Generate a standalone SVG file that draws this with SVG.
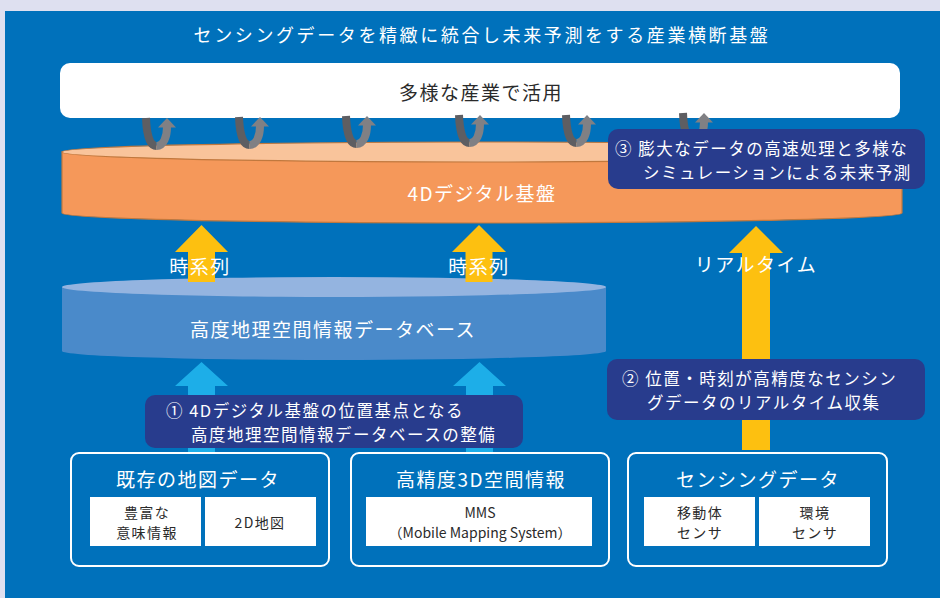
<svg xmlns="http://www.w3.org/2000/svg" width="940" height="598" viewBox="0 0 940 598">
<style>
text{font-family:"Noto Sans CJK JP","Noto Sans",sans-serif;dominant-baseline:central}
.w{fill:#ffffff}
.d{fill:#2a2a2a}
.h{font-size:19px;letter-spacing:1.5px;text-anchor:middle}
.t{font-size:16.5px;letter-spacing:1.5px}
.s{font-size:14px;letter-spacing:1.4px;text-anchor:middle}
.m{font-size:14px;text-anchor:middle}
.note{fill:#283C8D}
.frame{fill:none;stroke:#ffffff;stroke-width:2}
.inner{fill:#ffffff}
.yel{fill:#FDC010}
.blu{fill:#1DAEE8}
.uL{fill:none;stroke:#5E5E62;stroke-width:8}
.uR{fill:none;stroke:#808084;stroke-width:8}
</style>
<defs>
<g id="uarrow">
<path class="uL" d="M0,0 C0.5,14 3,28 10.5,28"/>
<path class="uR" d="M10.5,28 C18,28 21,18 21,9"/>
<polygon points="12,9.5 30,9.5 21,0" fill="#808084"/>
</g>
</defs>
<rect x="0" y="0" width="940" height="598" fill="#DEE0F0"/>
<rect x="5" y="11" width="935" height="587" fill="#0071BB"/>
<text class="w" x="482" y="34" style="font-size:18px;letter-spacing:2.6px;text-anchor:middle">センシングデータを精緻に統合し未来予測をする産業横断基盤</text>

<g id="industry">
<rect x="60" y="63" width="840" height="55" rx="10" fill="#ffffff"/>
<text class="d h" x="481" y="91">多様な産業で活用</text>
</g>

<g id="platform4d">
<path d="M62,152 L62,213 A420,10 0 0 0 902,213 L902,152 Z" fill="#F5985A" stroke="#C0783E" stroke-width="1.2"/>
<ellipse cx="482" cy="152" rx="420" ry="10" fill="#F9C49B" stroke="#C0783E" stroke-width="1.2"/>
<text class="w h" x="482" y="192">4Dデジタル基盤</text>
</g>

<g id="connectors">
<use href="#uarrow" x="146" y="118"/>
<use href="#uarrow" x="239" y="117"/>
<use href="#uarrow" x="346" y="116"/>
<use href="#uarrow" x="459" y="115"/>
<use href="#uarrow" x="566" y="115"/>
<use href="#uarrow" x="683" y="113"/>
</g>

<g id="database">
<path d="M62,287 L62,351 A272,9 0 0 0 606,351 L606,287 Z" fill="#4A8ACA"/>
<ellipse cx="334" cy="287" rx="272" ry="10" fill="#94B4E0"/>
<text class="w h" x="333" y="328">高度地理空間情報データベース</text>
</g>

<g id="flow-arrows">
<polygon class="yel" points="201.5,225 228,252 215,252 215,282 188,282 188,252 175,252"/>
<polygon class="yel" points="479,225 506,252 492.5,252 492.5,282 465.5,282 465.5,252 452,252"/>
<polygon class="yel" points="756,226 783,253 770,253 770,450 742,450 742,253 729,253"/>
<polygon class="blu" points="201.5,362 228,386 215,386 215,453 188,453 188,386 175,386"/>
<polygon class="blu" points="479.5,362 506,386 493,386 493,453 466,453 466,386 453,386"/>
<text class="w h" x="200" y="265">時系列</text>
<text class="w h" x="479" y="265">時系列</text>
<text class="w h" x="756" y="263">リアルタイム</text>
</g>

<g id="note3">
<rect class="note" x="608" y="129" width="317" height="60" rx="10"/>
<text class="w t" x="615" y="147.5">③ 膨大なデータの高速処理と多様な</text>
<text class="w t" x="643" y="171.5">シミュレーションによる未来予測</text>
</g>

<g id="note2">
<rect class="note" x="607" y="359" width="318" height="61" rx="10"/>
<text class="w t" x="622" y="378">② 位置・時刻が高精度なセンシン</text>
<text class="w t" x="647" y="402">グデータのリアルタイム収集</text>
</g>

<g id="note1">
<rect class="note" x="145" y="395" width="378" height="53" rx="10"/>
<text class="w t" x="166" y="409.5">① 4Dデジタル基盤の位置基点となる</text>
<text class="w t" x="191" y="433.5">高度地理空間情報データベースの整備</text>
</g>

<g id="existing-map">
<rect class="frame" x="71" y="453" width="258" height="113" rx="8"/>
<text class="w h" x="198" y="478">既存の地図データ</text>
<rect class="inner" x="90" y="497" width="111" height="49"/>
<rect class="inner" x="205" y="497" width="111" height="49"/>
<text class="d s" x="147" y="512">豊富な</text>
<text class="d s" x="147" y="532">意味情報</text>
<text class="d s" x="260" y="522">2D地図</text>
</g>

<g id="hd3d">
<rect class="frame" x="351" y="453" width="258" height="113" rx="8"/>
<text class="w h" x="481" y="478">高精度3D空間情報</text>
<rect class="inner" x="366" y="497" width="226" height="49"/>
<text class="d m" x="480" y="512">MMS</text>
<text class="d m" x="480" y="532">（Mobile Mapping System）</text>
</g>

<g id="sensing">
<rect class="frame" x="628" y="453" width="259" height="113" rx="8"/>
<text class="w h" x="758" y="478">センシングデータ</text>
<rect class="inner" x="644" y="497" width="111" height="49"/>
<rect class="inner" x="759" y="497" width="111" height="49"/>
<text class="d s" x="700" y="512">移動体</text>
<text class="d s" x="700" y="532">センサ</text>
<text class="d s" x="815" y="512">環境</text>
<text class="d s" x="815" y="532">センサ</text>
</g>
</svg>
